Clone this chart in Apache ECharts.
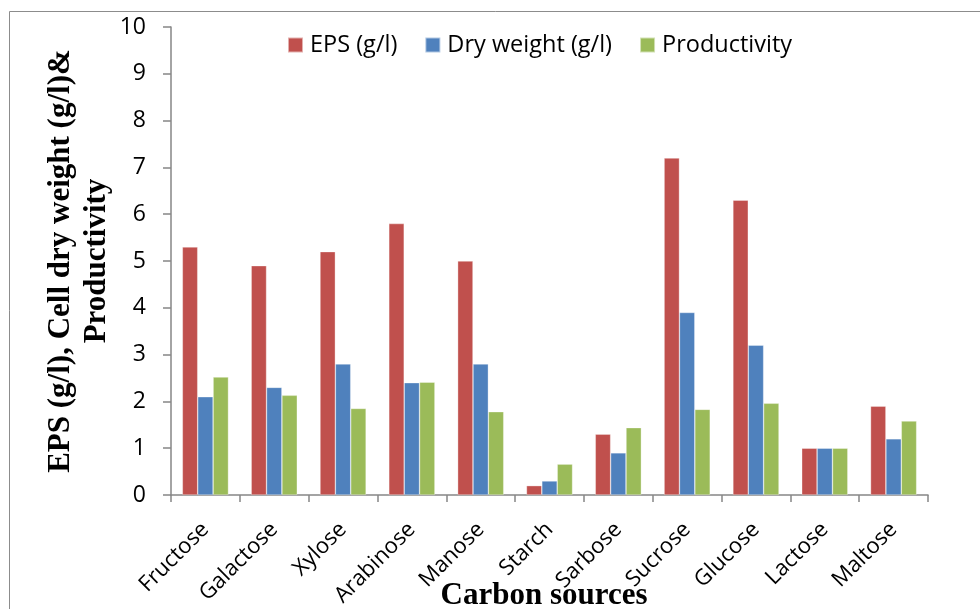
<!DOCTYPE html>
<html>
<head>
<meta charset="utf-8">
<style>
  html, body { margin: 0; padding: 0; background: #ffffff; }
  #chart { width: 980px; height: 609px; }
</style>
<script src="https://cdn.jsdelivr.net/npm/echarts@6/dist/echarts.min.js"></script>
</head>
<body>
<div id="chart"></div>
<script>
// Carbon sources tested and the measured responses
const categories = ['Fructose', 'Galactose', 'Xylose', 'Arabinose', 'Manose', 'Starch',
                    'Sarbose', 'Sucrose', 'Glucose', 'Lactose', 'Maltose'];
const epsValues = [5.3, 4.9, 5.2, 5.8, 5.0, 0.2, 1.3, 7.2, 6.3, 1.0, 1.9];
const dryWeightValues = [2.1, 2.3, 2.8, 2.4, 2.8, 0.3, 0.9, 3.9, 3.2, 1.0, 1.2];
const productivityValues = [2.52, 2.13, 1.85, 2.41, 1.78, 0.66, 1.44, 1.83, 1.96, 1.0, 1.58];
const yTicks = [0, 1, 2, 3, 4, 5, 6, 7, 8, 9, 10];

const axisGray = '#868686';
const sansFont = '"Open Sans", sans-serif';
const serifFont = '"Liberation Serif", "Times New Roman", serif';

const chart = echarts.init(document.getElementById('chart'), null, { renderer: 'canvas' });

function barSeries(name, data, color) {
  return {
    name: name,
    type: 'bar',
    data: data,
    barGap: '0%',
    barCategoryGap: '33%',
    itemStyle: { color: color, borderColor: 'rgba(255,255,255,0.55)', borderWidth: 0.6 },
    emphasis: { disabled: true }
  };
}

chart.setOption({
  animation: false,
  backgroundColor: '#ffffff',
  graphic: [{
    type: 'rect',
    shape: { x: 9.5, y: 11.5, width: 1000, height: 700 },
    style: { fill: 'none', stroke: '#8c8c8c', lineWidth: 1 },
    silent: true
  }],
  legend: {
    left: 282,
    top: 28,
    itemWidth: 15,
    itemHeight: 15,
    itemGap: 27,
    icon: 'rect',
    textStyle: { fontFamily: sansFont, fontSize: 23.5, color: '#000000', padding: [0, 0, 0, 2] },
    data: ['EPS (g/l)', 'Dry weight (g/l)', 'Productivity']
  },
  grid: { left: 171, right: 52, top: 27, bottom: 114, containLabel: false, outerBoundsMode: 'none' },
  xAxis: {
    type: 'category',
    data: categories,
    name: 'Carbon sources',
    nameLocation: 'middle',
    nameGap: 85,
    nameMoveOverlap: false,
    nameTextStyle: {
      fontFamily: serifFont, fontWeight: 'bold', fontSize: 31, color: '#000000',
      padding: [0, 11, 0, 0]
    },
    axisLine: { lineStyle: { color: axisGray, width: 1.5 } },
    axisTick: { show: true, length: 7, alignWithLabel: false, lineStyle: { color: axisGray, width: 1.5 } },
    axisLabel: {
      rotate: 45,
      interval: 0,
      margin: 31,
      fontFamily: sansFont,
      fontSize: 22,
      color: '#000000'
    }
  },
  yAxis: {
    type: 'value',
    min: yTicks[0],
    max: yTicks[yTicks.length - 1],
    interval: 1,
    name: 'EPS (g/l), Cell dry weight (g/l)&\nProductivity',
    nameLocation: 'middle',
    nameRotate: 90,
    nameGap: 56,
    nameMoveOverlap: false,
    nameTextStyle: {
      fontFamily: serifFont, fontWeight: 'bold', fontSize: 31, lineHeight: 36,
      color: '#000000', align: 'center'
    },
    splitLine: { show: false },
    axisLine: { show: true, lineStyle: { color: axisGray, width: 1.5 } },
    axisTick: { show: true, inside: false, length: 8, lineStyle: { color: axisGray, width: 1.5 } },
    axisLabel: { margin: 25, fontFamily: sansFont, fontSize: 23, color: '#000000' }
  },
  series: [
    barSeries('EPS (g/l)', epsValues, '#C0504D'),
    barSeries('Dry weight (g/l)', dryWeightValues, '#4F81BD'),
    barSeries('Productivity', productivityValues, '#9BBB59')
  ]
});
</script>
</body>
</html>
